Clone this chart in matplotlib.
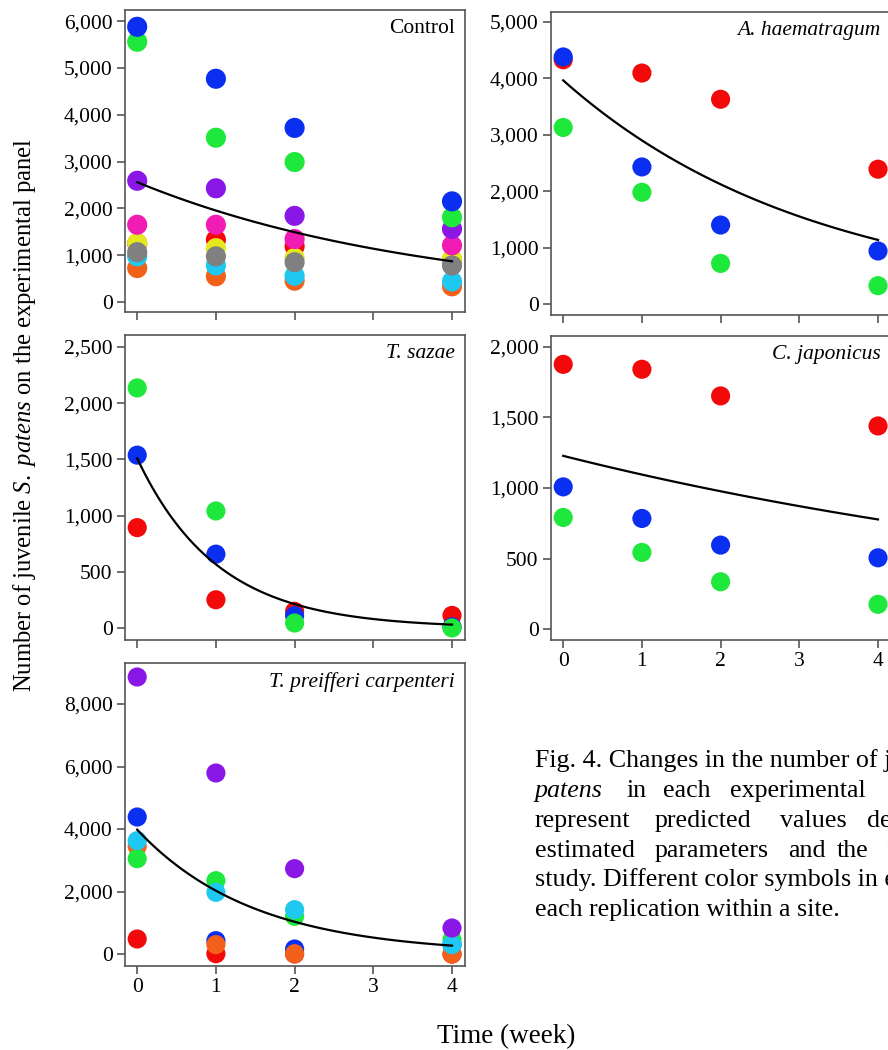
import numpy as np
import matplotlib
matplotlib.use("Agg")
import matplotlib.pyplot as plt

plt.rcParams['font.family'] = ['Liberation Serif', 'DejaVu Serif']
plt.rcParams['mathtext.fontset'] = 'custom'
plt.rcParams['mathtext.rm'] = 'Liberation Serif'
plt.rcParams['mathtext.it'] = 'Liberation Serif:italic'

weeks = [0, 1, 2, 4]

BLUE = '#0a2ff0'
GREEN = '#1ee83c'
RED = '#f20a0a'
PURPLE = '#8a17e6'
MAGENTA = '#f01cb4'
YELLOW = '#e4e81c'
CYAN = '#1ec8f0'
GRAY = '#808080'
ORANGE = '#f2601a'

# Control site, 9 replications (drawn bottom to top)
control_colors = [ORANGE, RED, YELLOW, CYAN, GRAY, MAGENTA, PURPLE, GREEN, BLUE]
control_vals = [
    [725, 550, 455, 335],      # orange
    [1250, 1330, 1190, 900],   # red
    [1260, 1150, 940, 920],    # yellow
    [975, 780, 560, 440],      # cyan
    [1065, 975, 850, 780],     # gray
    [1650, 1650, 1345, 1210],  # magenta
    [2590, 2430, 1840, 1560],  # purple
    [5560, 3510, 2990, 1810],  # green
    [5880, 4770, 3720, 2150],  # blue
]
control_fit = (2560, 0.27)

haem_colors = [RED, GREEN, BLUE]
haem_vals = [
    [4330, 4095, 3630, 2390],
    [3130, 1980, 720, 325],
    [4380, 2430, 1400, 940],
]
haem_fit = (3965, 0.3125)

sazae_colors = [RED, BLUE, GREEN]
sazae_vals = [
    [893, 251, 148, 112],
    [1538, 657, 109, 10],
    [2136, 1041, 44, 0],
]
sazae_fit = (1509, 0.98)

japon_colors = [RED, BLUE, GREEN]
japon_vals = [
    [1877, 1842, 1653, 1440],
    [1008, 784, 595, 505],
    [791, 543, 335, 175],
]
japon_fit = (1228, 0.1144)

preif_colors = [RED, BLUE, ORANGE, GREEN, CYAN, PURPLE]
preif_vals = [
    [480, 10, 0, 0],
    [4384, 427, 160, 300],
    [3445, 299, 10, 0],
    [3051, 2347, 1205, 459],
    [3627, 1973, 1419, 299],
    [8864, 5792, 2731, 832],
]
preif_fit = (3979, 0.675)

W, H = 888, 1050
fig = plt.figure(figsize=(W / 100, H / 100), dpi=100)


def px_axes(left, top, right, bottom):
    return fig.add_axes([left / W, 1 - bottom / H, (right - left) / W, (bottom - top) / H])


def panel(ax, colors, vals, fit, ylim, yticks, label, italic, xlabels, size=190):
    for c, v in zip(colors, vals):
        ax.scatter(weeks, v, s=size, color=c, edgecolors='none', zorder=2, clip_on=False)
    t = np.linspace(0, 4, 100)
    ax.plot(t, fit[0] * np.exp(-fit[1] * t), color='black', lw=1.6, zorder=3)
    ax.set_xlim(-0.155, 4.165)
    ax.set_ylim(*ylim)
    ax.set_xticks([0, 1, 2, 3, 4])
    ax.set_yticks(yticks)
    ax.set_yticklabels([f'{v:,}' for v in yticks])
    if not xlabels:
        ax.set_xticklabels([])
    for sp in ax.spines.values():
        sp.set_color('#555555')
        sp.set_linewidth(1.2)
    ax.tick_params(direction='out', length=6, width=1.2, color='#555555',
                   labelsize=15.5, pad=3)
    ax.text(0.97, 0.97, label, transform=ax.transAxes, ha='right', va='top',
            fontsize=15.5, style='italic' if italic else 'normal')


ax1 = px_axes(125, 10, 465, 312)
panel(ax1, control_colors, control_vals, control_fit, (-214, 6239),
      [0, 1000, 2000, 3000, 4000, 5000, 6000], 'Control', False, False, size=210)

ax2 = px_axes(551, 12, 891, 315)
panel(ax2, haem_colors, haem_vals, haem_fit, (-195, 5177),
      [0, 1000, 2000, 3000, 4000, 5000], 'A. haematragum', True, False)

ax3 = px_axes(125, 335, 465, 640)
panel(ax3, sazae_colors, sazae_vals, sazae_fit, (-107, 2607),
      [0, 500, 1000, 1500, 2000, 2500], 'T. sazae', True, False)

ax4 = px_axes(551, 336, 891, 640)
panel(ax4, japon_colors, japon_vals, japon_fit, (-78, 2078),
      [0, 500, 1000, 1500, 2000], 'C. japonicus', True, True)

ax5 = px_axes(125, 663, 465, 966)
panel(ax5, preif_colors, preif_vals, preif_fit, (-384, 9312),
      [0, 2000, 4000, 6000, 8000], 'T. preifferi carpenteri', True, True)

fig.text(25 / W, 1 - 415 / H,
         r'Number of juvenile $\mathit{S.\ patens}$ on the experimental panel',
         rotation=90, ha='center', va='center', fontsize=17.7)
fig.text(506 / W, 1 - 1037 / H, 'Time (week)', ha='center', va='center', fontsize=19.5)

# caption (justified lines placed word by word)
cap = 18.7
def word(x, y, s, italic=False):
    fig.text(x / W, 1 - y / H, s, ha='left', va='baseline', fontsize=cap,
             style='italic' if italic else 'normal')

word(535, 767, 'Fig. 4. Changes in the number of juvenile S.')
word(535, 797, 'patens', italic=True)
word(627, 797, 'in')
word(663, 797, 'each')
word(730, 797, 'experimental')
word(535, 827, 'represent')
word(655, 827, 'predicted')
word(780, 827, 'values')
word(867, 827, 'derived')
word(535, 857, 'estimated')
word(655, 857, 'parameters')
word(788, 857, 'and')
word(837, 857, 'the')
word(886, 857, 'function')
word(535, 886, 'study. Different color symbols in each panel')
word(535, 916, 'each replication within a site.')

fig.savefig('out.png', dpi=100)
